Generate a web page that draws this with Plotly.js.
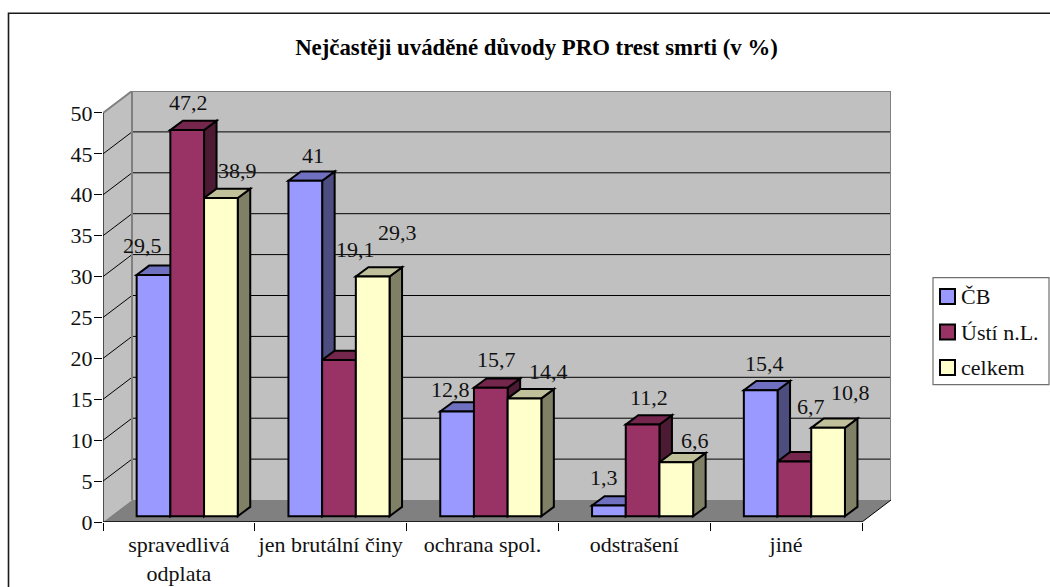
<!DOCTYPE html>
<html>
<head>
<meta charset="utf-8">
<script src="https://cdn.plot.ly/plotly-3.0.1.min.js"></script>
<style>html,body{margin:0;padding:0;background:#fff;overflow:hidden}#c{width:1050px;height:587px}</style>
</head>
<body>
<div id="c"></div>
<script>
// ---- data ----
var chartTitle = 'Nejčastěji uváděné důvody PRO trest smrti (v %)';
var categories = ['spravedlivá<br>odplata', 'jen brutální činy', 'ochrana spol.', 'odstrašení', 'jiné'];
var seriesNames = ['ČB', 'Ústí n.L.', 'celkem'];
var valuesCB = [29.5, 41, 12.8, 1.3, 15.4];
var valuesUsti = [47.2, 19.1, 15.7, 11.2, 6.7];
var valuesCelkem = [38.9, 29.3, 14.4, 6.6, 10.8];
var yTicks = [0, 5, 10, 15, 20, 25, 30, 35, 40, 45, 50];
var gridValues = [5, 10, 15, 20, 25, 30, 35, 40, 45];

// ---- styling ----
var frontColors = ['#9999FF', '#993366', '#FFFFCC'];
var topColors = ['#7070C0', '#74264D', '#C0C09A'];
var sideColors = ['#4D4D80', '#4D1A33', '#808066'];
var FONT = '"Liberation Serif","Times New Roman",serif';
var TXT = 22;

// nudges of the value labels from each bar's top centre, in pixels
var labelDx = [[-10.8, 8, -7.1, -5.2, 4], [1.1, 16.3, 5.9, 6.1, 16.3], [16.1, 24.3, 23.5, 18.7, 21.9]];
var labelDy = [[-29.6, -25.2, -21.9, -28.1, -26.7], [-27.4, -110.4, -28.2, -27, -55.2], [-27.3, -43.9, -26.8, -22, -35]];

// ---- geometry ----
var series = [valuesCB, valuesUsti, valuesCelkem];
var L = 103, R = 891, T = 91.3, B = 522.5;
var catW = 151.8, unitH = 8.184;
var wallDx = 29, wallDy = 22;
var barW = 33.7, barShift = 8.3, barDepthX = 12.5, barDepthY = 9.3, barLift = 5.8;
var px2x = function (p) { return p / catW; };
var px2y = function (p) { return p / unitH; };
var xMin = -0.5, xFront = 4.5, xMax = xFront + px2x(wallDx);
var yMax = 50 + px2y(wallDy);
var dX = px2x(wallDx), dY = px2y(wallDy);
var bX = px2x(barDepthX), bY = px2y(barDepthY);
var base = px2y(barLift);
var pw = R - L, ph = B - T;
var paperX = function (p) { return (p - L) / pw; };
var paperY = function (p) { return (B - p) / ph; };

var poly = function (pts) {
  return 'M' + pts.map(function (q) { return q[0] + ',' + q[1]; }).join('L') + 'Z';
};
var shapes = [];
function face(pts, fill, lineW, lineC) {
  shapes.push({ type: 'path', xref: 'x', yref: 'y', layer: 'below', path: poly(pts), fillcolor: fill,
    line: { color: lineC, width: lineW } });
}
function seg(x0, y0, x1, y1, c, w) {
  shapes.push({ type: 'line', xref: 'x', yref: 'y', layer: 'below', x0: x0, y0: y0, x1: x1, y1: y1,
    line: { color: c, width: w } });
}
// chart frame (runs off the page on the right and at the bottom)
shapes.push({ type: 'rect', xref: 'paper', yref: 'paper', layer: 'below',
  x0: paperX(8.5), x1: paperX(1070), y0: paperY(13.5), y1: paperY(610), line: { color: '#1a1a1a', width: 1.6 } });
// walls and floor
face([[xMin, 0], [xMin + dX, dY], [xMin + dX, 50 + dY], [xMin, 50]], '#C0C0C0', 0, 'rgba(0,0,0,0)');
face([[xMin + dX, dY], [xMax, dY], [xMax, 50 + dY], [xMin + dX, 50 + dY]], '#C0C0C0', 0, 'rgba(0,0,0,0)');
face([[xMin, 0], [xFront, 0], [xMax, dY], [xMin + dX, dY]], '#808080', 0, 'rgba(0,0,0,0)');
gridValues.forEach(function (v) {
  seg(xMin, v, xMin + dX, v + dY, '#000', 1);
  seg(xMin + dX, v + dY, xMax, v + dY, '#000', 1);
});
// wall outlines
seg(xMin, 50, xMin + dX, 50 + dY, '#808080', 2);
seg(xMin + dX, 50 + dY, xMax, 50 + dY, '#808080', 2);
seg(xMin + dX, dY, xMin + dX, 50 + dY, '#808080', 2);
seg(xMax, dY, xMax, 50 + dY, '#808080', 2);
seg(xFront, 0, xMax, dY, '#000', 1);
// axis lines
seg(xMin, 0, xMin, 50, '#000', 1.2);
seg(xMin, 0, xFront, 0, '#000', 1.6);

// bar depth faces, left to right
categories.forEach(function (c, i) {
  series.forEach(function (vals, s) {
    var x0 = i + px2x(barShift + (s - 1.5) * barW), x1 = x0 + px2x(barW);
    var top = vals[i] + base;
    face([[x1, base], [x1 + bX, base + bY], [x1 + bX, top + bY], [x1, top]], sideColors[s], 2, '#000');
    face([[x0, top], [x1, top], [x1 + bX, top + bY], [x0 + bX, top + bY]], topColors[s], 2, '#000');
  });
});

// front faces: the real bars
var traces = series.map(function (vals, s) {
  return {
    type: 'bar', name: seriesNames[s], x: categories, y: vals, base: base,
    width: px2x(barW), offset: px2x(barShift + (s - 1.5) * barW),
    marker: { color: frontColors[s], line: { color: '#000', width: 2 } },
    showlegend: false, hoverinfo: 'x+y+name'
  };
});

// value labels
var anns = [];
series.forEach(function (vals, s) {
  vals.forEach(function (v, i) {
    anns.push({ xref: 'x', yref: 'y', x: categories[i], y: v + base, showarrow: false,
      xanchor: 'center', yanchor: 'middle',
      xshift: barShift + (s - 1) * barW + labelDx[s][i], yshift: -labelDy[s][i],
      text: String(v).replace('.', ','), font: { family: FONT, size: TXT, color: '#111' } });
  });
});

// legend box
var lgX0 = 933, lgX1 = 1049, lgY0 = 278, lgY1 = 385, lgSw = 15, lgSwX = 940, lgTextX = 961;
var lgRows = [297, 332.5, 368];
shapes.push({ type: 'rect', xref: 'paper', yref: 'paper', layer: 'above',
  x0: paperX(lgX0), x1: paperX(lgX1), y0: paperY(lgY0), y1: paperY(lgY1),
  fillcolor: '#fff', line: { color: '#707070', width: 1.2 } });
seriesNames.forEach(function (n, s) {
  var cy = lgRows[s];
  shapes.push({ type: 'rect', xref: 'paper', yref: 'paper', layer: 'above',
    x0: paperX(lgSwX), x1: paperX(lgSwX + lgSw), y0: paperY(cy - lgSw / 2), y1: paperY(cy + lgSw / 2),
    fillcolor: frontColors[s], line: { color: '#000', width: 2 } });
  anns.push({ xref: 'paper', yref: 'paper', x: paperX(lgTextX), y: paperY(cy), showarrow: false,
    xanchor: 'left', yanchor: 'middle', xshift: -2, text: n, font: { family: FONT, size: TXT, color: '#111' } });
});

var layout = {
  width: 1050, height: 587, autosize: false,
  margin: { l: L, r: 1050 - R, t: T, b: 587 - B, pad: 0 },
  paper_bgcolor: '#fff', plot_bgcolor: 'rgba(0,0,0,0)',
  title: { text: '<b>' + chartTitle + '</b>', xref: 'paper', yref: 'container', x: paperX(536.5), xanchor: 'center',
    y: 1 - 47 / 587, yanchor: 'middle', font: { family: FONT, size: 22.8, color: '#000' } },
  barmode: 'overlay', showlegend: false,
  xaxis: {
    type: 'category', categoryorder: 'array', categoryarray: categories, range: [xMin, xMax],
    tickson: 'boundaries', ticks: 'outside', ticklen: 8, tickwidth: 1, tickcolor: '#000',
    showgrid: false, zeroline: false, showline: false, fixedrange: true, ticklabelstandoff: 7,
    tickangle: 0, tickfont: { family: FONT, size: TXT, color: '#111' }
  },
  yaxis: {
    range: [0, yMax], tickmode: 'array', tickvals: yTicks, ticktext: yTicks.map(String),
    ticks: 'outside', ticklen: 8, tickwidth: 1, tickcolor: '#000', ticklabelstandoff: -3,
    showgrid: false, zeroline: false, showline: false, fixedrange: true,
    tickfont: { family: FONT, size: TXT, color: '#111' }
  },
  shapes: shapes, annotations: anns
};
Plotly.newPlot('c', traces, layout, { displayModeBar: false, staticPlot: true });
</script>
</body>
</html>
